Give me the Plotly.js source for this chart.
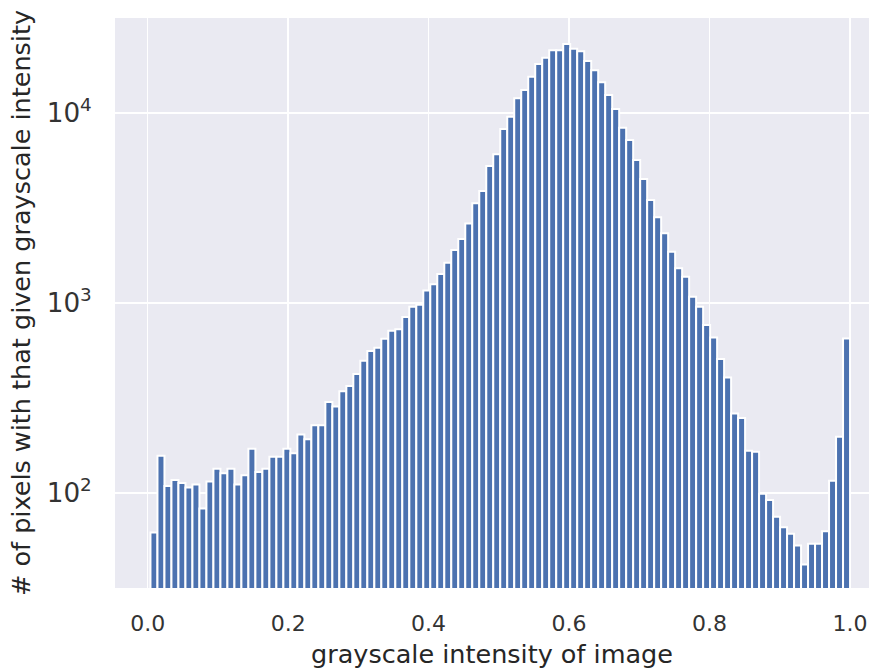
<!DOCTYPE html>
<html>
<head>
<meta charset="utf-8">
<script src="https://cdn.plot.ly/plotly-3.0.1.min.js"></script>
<style>html,body{margin:0;padding:0;background:#fff;overflow:hidden;}</style>
</head>
<body>
<div id="chart" style="width:875px;height:671px;"></div>
<script>
// Histogram bin edges (data domain) and counts per bin
const binStart = 0.004;
const binEnd = 1.0;
const counts = [
  62, 157, 109, 117, 113, 107, 111, 83, 115, 134,
  127, 134, 111, 124, 171, 129, 134, 155, 155, 171,
  162, 203, 192, 227, 227, 301, 285, 343, 366, 423,
  497, 559, 582, 649, 714, 727, 844, 957, 979, 1162,
  1254, 1422, 1630, 1901, 2174, 2624, 3350, 3880, 5262, 6066,
  8238, 9560, 11950, 13220, 15520, 18110, 19540, 21380, 21380, 23070,
  21780, 21130, 18790, 16790, 14500, 12440, 10500, 8373, 7214, 5664,
  4499, 3484, 2826, 2328, 1862, 1524, 1374, 1079, 957, 766,
  659, 507, 406, 262, 248, 167, 165, 99, 92, 75,
  66, 61, 53, 42, 54, 54, 63, 116, 198, 650
];
const xTickVals = [0.0, 0.2, 0.4, 0.6, 0.8, 1.0];
const xTickText = ["0.0", "0.2", "0.4", "0.6", "0.8", "1.0"];
const xLabel = "grayscale intensity of image";
const yLabel = "# of pixels with that given grayscale intensity";

const w = (binEnd - binStart) / counts.length;
const centers = counts.map((_, i) => binStart + w * (i + 0.5));

const trace = {
  type: "bar",
  x: centers,
  y: counts,
  width: w,
  marker: { color: "#4c72b0", line: { color: "#ffffff", width: 2 } },
  hoverinfo: "x+y"
};

const fam = "DejaVu Sans, sans-serif";

const layout = {
  width: 875,
  height: 671,
  margin: { l: 115, r: 6, t: 18, b: 83, pad: 0 },
  paper_bgcolor: "#ffffff",
  plot_bgcolor: "#eaeaf2",
  bargap: 0,
  showlegend: false,
  font: { family: fam, color: "#262626" },
  xaxis: {
    range: [-0.0465, 1.027],
    tickvals: xTickVals,
    ticktext: xTickText,
    showgrid: true,
    gridcolor: "#ffffff",
    gridwidth: 1.6,
    zeroline: false,
    showline: false,
    ticks: "outside",
    ticklen: 16,
    tickcolor: "rgba(0,0,0,0)",
    tickfont: { family: fam, size: 22, color: "#333333" },
    title: { text: xLabel, font: { family: fam, size: 25.5, color: "#262626" }, standoff: 9 }
  },
  yaxis: {
    type: "log",
    range: [1.5, 4.5],
    dtick: 1,
    exponentformat: "power",
    showgrid: true,
    gridcolor: "#ffffff",
    gridwidth: 1.6,
    zeroline: false,
    showline: false,
    ticks: "outside",
    ticklen: 18,
    tickcolor: "rgba(0,0,0,0)",
    tickfont: { family: fam, size: 21, color: "#333333" },
    title: { text: yLabel, font: { family: fam, size: 25.5, color: "#262626" }, standoff: 8 }
  }
};

Plotly.newPlot("chart", [trace], layout, { displayModeBar: false, staticPlot: true });
</script>
</body>
</html>
